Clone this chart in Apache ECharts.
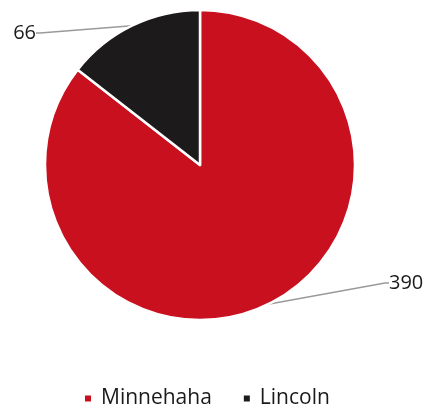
<!DOCTYPE html>
<html>
<head>
<meta charset="utf-8">
<script src="https://cdn.jsdelivr.net/npm/echarts@6/dist/echarts.min.js"></script>
<style>html,body{margin:0;padding:0;background:#fff}#c{width:429px;height:412px}</style>
</head>
<body>
<div id="c"></div>
<script>
const categories = ['Minnehaha', 'Lincoln'];
const values = [390, 66];
const colors = ['#c8101f', '#1c1a1b'];

const chart = echarts.init(document.getElementById('c'), null, {renderer: 'canvas'});
const labelPos = [{x: 389, y: 283, align: 'left'}, {x: 36, y: 33, align: 'right'}];
chart.setOption({
  animation: false,
  legend: {
    top: 388,
    left: 80,
    padding: [0, 0, 0, 3],
    icon: 'rect',
    itemWidth: 8,
    itemHeight: 8,
    itemGap: 30,
    textStyle: {fontFamily: 'Open Sans', fontSize: 21, color: '#1a1a1a', padding: [0, 0, 0, 4]},
    data: categories
  },
  series: [{
    type: 'pie',
    center: [200, 165],
    radius: 155,
    startAngle: 90,
    clockwise: true,
    data: categories.map((c, i) => ({name: c, value: values[i], itemStyle: {color: colors[i]}})),
    itemStyle: {borderColor: '#fff', borderWidth: 2.5},
    label: {show: true, position: 'outside', formatter: '{c}', fontFamily: 'Open Sans', fontSize: 20, color: '#1a1a1a'},
    labelLine: {show: true, length: 10, length2: 4, lineStyle: {color: '#9a9a9a', width: 1.5}},
    labelLayout: function (p) {
      const lp = labelPos[p.dataIndex];
      return {x: lp.x, y: lp.y, align: lp.align, verticalAlign: 'middle'};
    }
  }]
});
</script>
</body>
</html>
